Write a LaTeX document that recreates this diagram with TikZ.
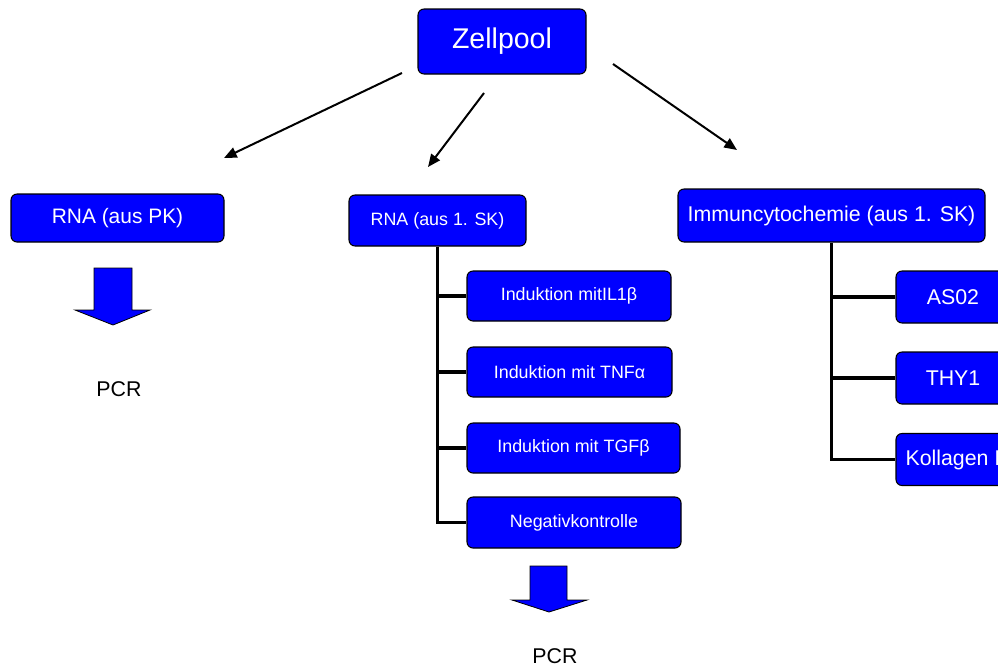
\documentclass[tikz,border=0pt]{standalone}
\usepackage{fontspec}
\setmainfont{Liberation Sans}
\usetikzlibrary{arrows.meta}
\definecolor{zpblue}{HTML}{0000FF}

\begin{document}
\begin{tikzpicture}[x=0.75pt, y=0.75pt,
  box/.style={draw=black, line width=0.8pt, fill=zpblue, rounded corners=4.5pt, text=white, inner sep=1pt},
  zweig/.style={line width=2.4pt},
  pfeil/.style={line width=1.5pt, -{Triangle[length=9.5pt, width=8pt]}},
  blockarrow/.style={draw=black, line width=0.6pt, fill=zpblue},
  pcr/.style={font=\fontsize{16}{19}\selectfont}]
  \clip (0,0) rectangle (998,-668);
  % top level
  \node[box, minimum width=126pt, minimum height=48.75pt, font=\fontsize{21.4}{25}\selectfont] (zellpool) at (502,-41.5) {Zellpool};
  \node[box, minimum width=159.75pt, minimum height=36pt, font=\fontsize{15.7}{18}\selectfont] (rnapk) at (117.5,-218) {RNA (aus PK)};
  \node[box, minimum width=132.75pt, minimum height=38.25pt, font=\fontsize{13.4}{16}\selectfont] (rnask) at (437.5,-220.5) {RNA (aus 1. SK)};
  \node[box, minimum width=230.25pt, minimum height=39.75pt, font=\fontsize{16}{19}\selectfont] (icc) at (831.5,-215.5) {Immuncytochemie (aus 1. SK)};
  % RNA (aus 1. SK) branches
  \node[box, minimum width=153pt, minimum height=37.5pt, font=\fontsize{13.4}{16}\selectfont] (il) at (569,-296) {Induktion mitIL1β};
  \node[box, minimum width=153.75pt, minimum height=37.5pt, font=\fontsize{13.4}{16}\selectfont] (tnf) at (569.5,-372) {Induktion mit TNFα};
  \node[box, minimum width=159.75pt, minimum height=37.5pt, font=\fontsize{13.4}{16}\selectfont] (tgf) at (573.5,-448) {Induktion mit TGFβ};
  \node[box, minimum width=160.5pt, minimum height=38.25pt, font=\fontsize{13.4}{16}\selectfont] (neg) at (574,-522.5) {Negativkontrolle};
  % Immuncytochemie branches
  \node[box, minimum width=85.5pt, minimum height=39pt, font=\fontsize{16}{19}\selectfont] (as) at (953,-297) {AS02};
  \node[box, minimum width=85.5pt, minimum height=39pt, font=\fontsize{16}{19}\selectfont] (thy) at (953,-378) {THY1};
  \node[box, minimum width=85.5pt, minimum height=39pt, font=\fontsize{16}{19}\selectfont] (kol) at (953,-459.5) {Kollagen I};
  % tree lines
  \draw[zweig] (rnask.south) -- (rnask.south |- neg.west) -- (neg.west);
  \foreach \n in {il,tnf,tgf}
    \draw[zweig] (rnask.south |- \n.west) -- (\n.west);
  \draw[zweig] (icc.south) -- (icc.south |- kol.west) -- (kol.west);
  \foreach \n in {as,thy}
    \draw[zweig] (icc.south |- \n.west) -- (\n.west);
  % arrows from Zellpool
  \coordinate (pfeilAa) at (402,-73);
  \coordinate (pfeilAb) at (224,-158);
  \coordinate (pfeilBa) at (484,-93);
  \coordinate (pfeilBb) at (428,-167);
  \coordinate (pfeilCa) at (613,-64);
  \coordinate (pfeilCb) at (737,-150);
  \draw[pfeil] (pfeilAa) -- (pfeilAb);
  \draw[pfeil] (pfeilBa) -- (pfeilBb);
  \draw[pfeil] (pfeilCa) -- (pfeilCb);
  % block arrows to PCR
  \draw[blockarrow] (94,-268) -- (132,-268) -- (132,-310) -- (150,-310) -- (113,-325) -- (75,-310) -- (94,-310) -- cycle;
  \draw[blockarrow] (530,-566) -- (567,-566) -- (567,-600) -- (587,-600) -- (549,-612) -- (512,-600) -- (530,-600) -- cycle;
  \node[pcr] (pcrpk) at (119,-389) {PCR};
  \node[pcr] (pcrsk) at (555,-656) {PCR};
\end{tikzpicture}
\end{document}
